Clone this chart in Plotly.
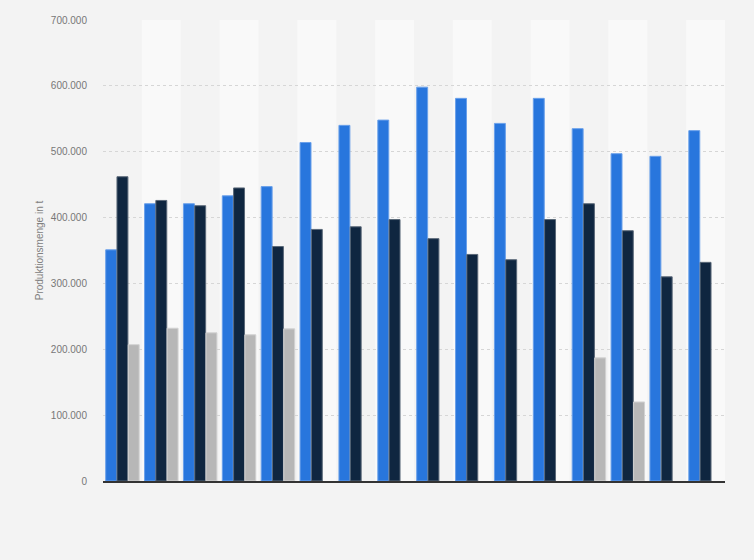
import plotly.graph_objects as go

# 16 groups, no category labels are shown in the chart
groups = [str(i) for i in range(1, 17)]

blue_values = [351000, 421000, 421000, 433000, 447000, 514000, 540000, 548000,
               598000, 581000, 543000, 581000, 535000, 497000, 493000, 532000]
navy_values = [462000, 426000, 418000, 445000, 356000, 382000, 386000, 397000,
               368000, 344000, 336000, 397000, 421000, 380000, 310000, 332000]
grey_values = [207000, 232000, 225000, 222000, 231000, None, None, None,
               None, None, None, None, 187000, 120000, None, None]

y_ticks = [0, 100000, 200000, 300000, 400000, 500000, 600000, 700000]

fig = go.Figure()
fig.add_bar(x=groups, y=blue_values, name="Serie 1",
            marker={"color": "#2876dd", "line": {"color": "#6aa0ea", "width": 1}})
fig.add_bar(x=groups, y=navy_values, name="Serie 2",
            marker={"color": "#0f2640", "line": {"color": "#5a6878", "width": 1}})
fig.add_bar(x=groups, y=grey_values, name="Serie 3",
            marker={"color": "#b7b7b7", "line": {"color": "#d2d2d2", "width": 1}})

# alternating lighter column bands
for i in range(1, len(groups), 2):
    fig.add_shape(type="rect", xref="x", yref="paper", x0=i - 0.5, x1=i + 0.5,
                  y0=0, y1=1, fillcolor="#f9f9f9", line={"width": 0}, layer="below")

fig.update_layout(
    width=754,
    height=560,
    paper_bgcolor="#f3f3f3",
    plot_bgcolor="#f3f3f3",
    margin={"l": 103, "r": 29, "t": 20, "b": 79},
    barmode="group",
    bargap=0.13,
    bargroupgap=0.03,
    showlegend=False,
    separators=",.",
    font={"family": "Arial, Liberation Sans, sans-serif", "color": "#777777", "size": 10},
    xaxis={
        "showticklabels": False,
        "showgrid": False,
        "showline": True,
        "linecolor": "#333333",
        "linewidth": 1.5,
        "ticks": "",
        "range": [-0.5, len(groups) - 0.5],
    },
    yaxis={
        "title": {"text": "Produktionsmenge in t", "font": {"size": 10, "color": "#808080"}, "standoff": 5},
        "range": [0, 700000],
        "tickvals": y_ticks,
        "tickformat": ",d",
        "showgrid": True,
        "gridcolor": "#d6d6d6",
        "griddash": "dot",
        "gridwidth": 1,
        "zeroline": False,
        "ticks": "",
        "ticklabelstandoff": 15,
    },
)

fig.write_html("out.html", config={"displayModeBar": False},
               post_script="document.body.style.margin='0';")
